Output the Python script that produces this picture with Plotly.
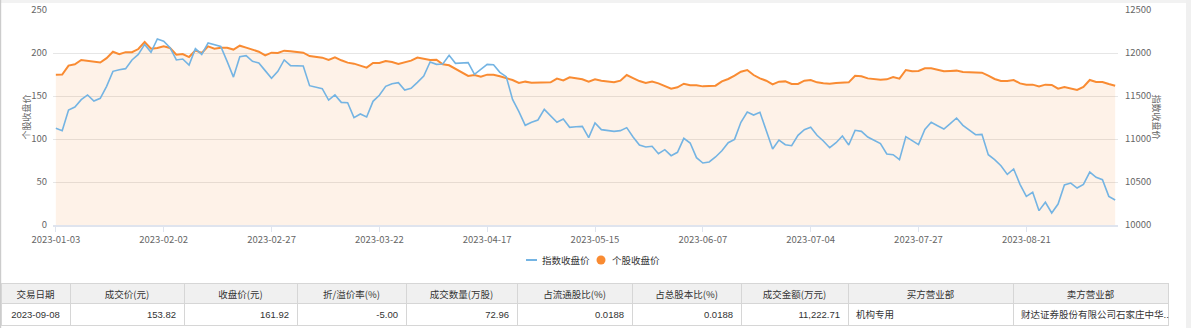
import pandas as pd
import plotly.graph_objects as go

W, H = 1191, 328

# ---------------- data ----------------
holidays = ["2023-01-02", "2023-01-23", "2023-01-24", "2023-01-25", "2023-01-26", "2023-01-27",
            "2023-04-05", "2023-05-01", "2023-05-02", "2023-05-03", "2023-06-22", "2023-06-23"]
dates = [d.strftime("%Y-%m-%d") for d in pd.bdate_range("2023-01-03", "2023-09-08")
         if d.strftime("%Y-%m-%d") not in holidays]

stock_close = [
    174.8, 175, 185.3, 186.8, 191.9, 191, 190.3, 189, 194, 201.5,
    198.5, 201, 201, 204.6, 212.8, 205, 205.8, 207.7, 205.8, 198,
    198.8, 195.3, 203, 200, 207.7, 205, 206.2, 206.2, 204, 208.5,
    206.2, 203.9, 201.5, 197.3, 200.4, 200, 202.7, 202, 201.5, 200.4,
    196.5, 195.3, 194.6, 191.9, 195, 191.5, 188.8, 187.6, 185.3, 183,
    188.4, 188.4, 190.7, 189.5, 187.2, 188.8, 191.1, 194.6, 193.4, 191.9,
    192.2, 186.8, 185.7, 181.4, 177.1, 173.3, 174.4, 172.5, 174.8, 174.8,
    172.9, 170.5, 168.6, 165.1, 166.7, 165.5, 165.9, 165.9, 165.9, 170.2,
    168.2, 171.7, 170.2, 169.4, 166.7, 169.4, 167.8, 166.7, 165.9, 167.8,
    174.4, 170.9, 167.4, 165.1, 166.7, 164.7, 162, 158.5, 160.1, 164.3,
    162.4, 162.4, 161.2, 162, 162, 167, 169.8, 173.6, 178.3, 180.2,
    174.4, 170.5, 167.8, 163.6, 166.7, 167, 164, 164, 167.8, 168.6,
    165.9, 164.7, 164.3, 165.1, 165.9, 165.9, 173.6, 172.9, 170.5, 169.4,
    169, 169.4, 172.1, 170.2, 180.2, 178.7, 179.1, 182.2, 182.2, 180.6,
    178.7, 179.1, 179.5, 177.9, 177.5, 177.9, 177.1, 173.6, 169.8, 167.4,
    167.4, 168.6, 164.7, 163.2, 163.2, 161.2, 163.2, 162.8, 158.5, 160.5,
    158.9, 157, 160.5, 168.6, 166.3, 166.3, 164, 161.92,
]

index_close = [
    11124, 11097, 11337, 11372, 11457, 11512, 11442, 11473, 11612, 11787,
    11806, 11818, 11919, 11984, 12100, 12008, 12163, 12136, 12062, 11919,
    11930, 11860, 12050, 11984, 12116, 12100, 12077, 11903, 11720, 11957,
    11969, 11903, 11884, 11795, 11705, 11787, 11919, 11853, 11853, 11849,
    11620, 11605, 11585, 11453, 11512, 11426, 11422, 11248, 11291, 11256,
    11438, 11508, 11612, 11643, 11655, 11570, 11589, 11659, 11733, 11895,
    11868, 11872, 11973, 11880, 11884, 11888, 11752, 11814, 11868, 11864,
    11775, 11725, 11461, 11318, 11159, 11194, 11221, 11345, 11275, 11194,
    11233, 11136, 11143, 11147, 11016, 11186, 11109, 11101, 11089, 11097,
    11132, 11023, 10930, 10907, 10915, 10829, 10876, 10806, 10845, 11008,
    10953, 10783, 10721, 10733, 10791, 10864, 10957, 10996, 11194, 11314,
    11279, 11310, 11101, 10884, 10988, 10934, 10922, 11043, 11109, 11136,
    11043, 10977, 10899, 10957, 11035, 10930, 11101, 11089, 11023, 10984,
    10946, 10826, 10818, 10760, 11027, 10981, 10934, 11112, 11194, 11155,
    11116, 11178, 11244, 11159, 11105, 11050, 11054, 10818, 10760, 10690,
    10589, 10651, 10473, 10333, 10380, 10167, 10264, 10140, 10244, 10465,
    10488, 10430, 10473, 10616, 10554, 10527, 10333, 10290,
]

tick_dates = dates[::17]

legend_names = ["指数收盘价", "个股收盘价"]
axis_titles = ["个股收盘价", "指数收盘价"]

table_header = ["交易日期", "成交价(元)", "收盘价(元)", "折/溢价率(%)", "成交数量(万股)",
                "占流通股比(%)", "占总股本比(%)", "成交金额(万元)", "买方营业部", "卖方营业部"]
table_row = ["2023-09-08", "153.82", "161.92", "-5.00", "72.96",
             "0.0188", "0.0188", "11,222.71", "机构专用", "财达证券股份有限公司石家庄中华..."]

# ---------------- styling ----------------
ORANGE = "#f98b32"
BLUE = "#74b4e3"
FONT = "Noto Sans CJK SC, Liberation Sans, sans-serif"
TFONT = "Liberation Sans, Noto Sans CJK SC, sans-serif"
GREY = "#666666"


def fx(px):
    return px / W


def fy(py):
    return 1 - py / H


fig = go.Figure()

fig.add_trace(go.Scatter(
    x=dates, y=stock_close, mode="lines", name=legend_names[1],
    line=dict(color=ORANGE, width=2), fill="tozeroy",
    fillcolor="rgba(250,140,50,0.11)", showlegend=False, yaxis="y"))
fig.add_trace(go.Scatter(
    x=dates, y=index_close, mode="lines", name=legend_names[0],
    line=dict(color=BLUE, width=1.6), showlegend=False, yaxis="y2"))

fig.add_trace(go.Table(
    domain=dict(x=[fx(1), fx(1168)], y=[fy(327), fy(283)]),
    columnwidth=[69, 114, 113, 109, 111, 115, 109, 107, 165, 155],
    header=dict(values=table_header, fill_color="#f0f0f0",
                line=dict(color="#d6d6d6", width=1), align="center",
                font=dict(family=FONT, size=9.5, color="#333333"), height=20),
    cells=dict(values=[[v] for v in table_row], fill_color="white",
               line=dict(color="#d6d6d6", width=1),
               align=["center", "right", "right", "right", "right", "right", "right", "right", "left", "left"],
               font=dict(family=TFONT, size=9.5, color="#333333"), height=22),
))

legend_shapes = [
    dict(type="line", xref="paper", yref="paper", x0=fx(526), x1=fx(537), y0=fy(260), y1=fy(260),
         line=dict(color=BLUE, width=2)),
    dict(type="circle", xref="paper", yref="paper", x0=fx(596.5), x1=fx(605.5), y0=fy(264.5), y1=fy(255.5),
         fillcolor=ORANGE, line=dict(width=0)),
]

deco_shapes = [
    dict(type="rect", xref="paper", yref="paper", x0=0, x1=1, y0=fy(3), y1=1,
         fillcolor="#f2f2f2", line=dict(width=0), layer="below"),
    dict(type="rect", xref="paper", yref="paper", x0=0, x1=fx(1.2), y0=0, y1=1,
         fillcolor="#cccccc", line=dict(width=0), layer="below"),
    dict(type="rect", xref="paper", yref="paper", x0=fx(1186), x1=1, y0=0, y1=1,
         fillcolor="#f0f0f0", line=dict(width=0), layer="below"),
]

fig.update_layout(
    width=W, height=H,
    margin=dict(l=0, r=0, t=0, b=0, autoexpand=False),
    paper_bgcolor="white", plot_bgcolor="white",
    font=dict(family=FONT, size=9, color=GREY),
    showlegend=False,
    xaxis=dict(domain=[fx(53), fx(1118)], type="category", automargin=False,
               range=[-0.45, len(dates) - 1 + 0.45],
               tickmode="array", tickvals=tick_dates, ticktext=tick_dates,
               showgrid=False, showline=True, linecolor="#dfe4ee", linewidth=2,
               ticks="outside", ticklen=5, tickcolor="#dfe4ee",
               tickfont=dict(size=9.5, color=GREY), zeroline=False),
    yaxis=dict(domain=[fy(225), fy(10)], range=[0, 250], dtick=50, automargin=False,
               showgrid=True, gridcolor="#e6e6e6", gridwidth=1, zeroline=False,
               ticklabelstandoff=5,
               tickfont=dict(size=9.5, color=GREY), ticks="", showline=False),
    yaxis2=dict(overlaying="y", side="right", range=[10000, 12500], dtick=500,
                tickformat="d", automargin=False, ticklabelstandoff=6,
                showgrid=False, zeroline=False, tickfont=dict(size=9.5, color=GREY),
                anchor="x"),
    annotations=[
        dict(text=axis_titles[0], xref="paper", yref="paper", x=fx(17), y=fy(117),
             textangle=-90, showarrow=False, font=dict(size=9, color=GREY)),
        dict(text=axis_titles[1], xref="paper", yref="paper", x=fx(1165), y=fy(117),
             textangle=90, showarrow=False, font=dict(size=9, color=GREY)),
        dict(text=legend_names[0], xref="paper", yref="paper", x=fx(540), y=fy(260),
             xanchor="left", yanchor="middle", showarrow=False,
             font=dict(size=9.5, color="#333333")),
        dict(text=legend_names[1], xref="paper", yref="paper", x=fx(610), y=fy(260),
             xanchor="left", yanchor="middle", showarrow=False,
             font=dict(size=9.5, color="#333333")),
    ],
    shapes=deco_shapes + legend_shapes,
)

fig.write_html("out.html")
